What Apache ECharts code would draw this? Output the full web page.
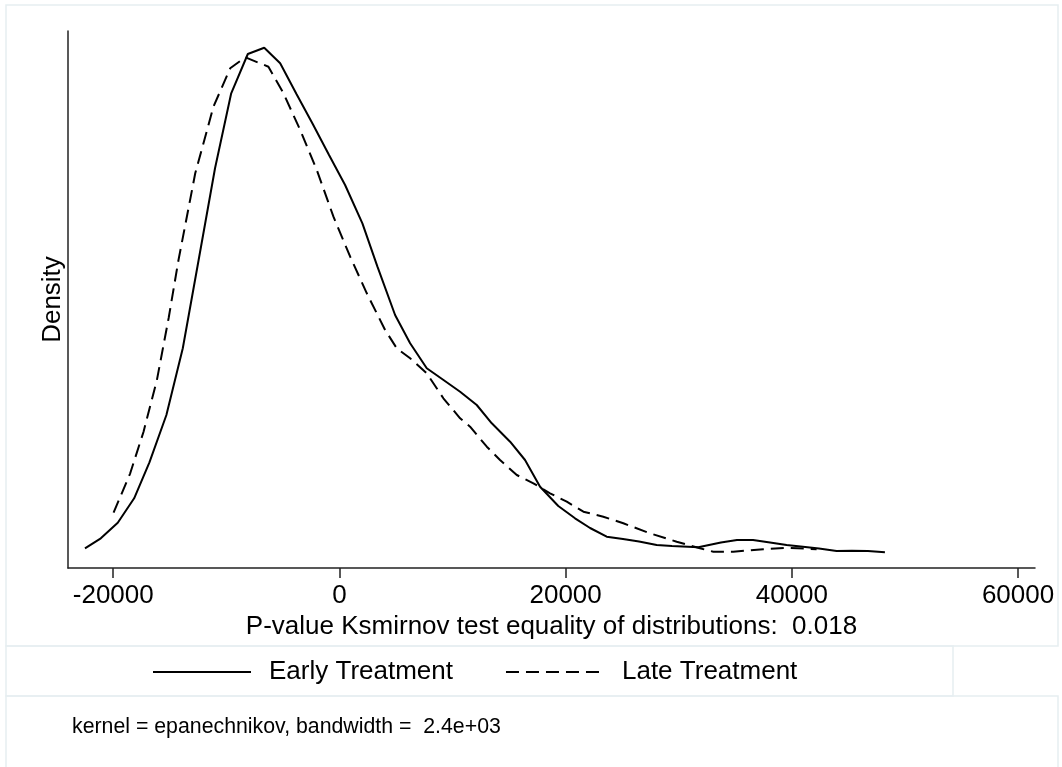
<!DOCTYPE html>
<html>
<head>
<meta charset="utf-8">
<title>Kernel density: early vs late treatment</title>
<script src="https://cdn.jsdelivr.net/npm/echarts@6/dist/echarts.min.js"></script>
<style>
	html, body { margin: 0; padding: 0; background: #fff; }
	#chart { width: 1062px; height: 767px; }
</style>
</head>
<body>
<div id="chart"></div>
<script>
// kernel density estimates (density in units of 1e-6)
var xEarly = [-22500, -21100, -19600, -18150, -16800, -15300, -13850, -12450, -11000, -9570,
	-8100, -6650, -5240, -3800, -2360, -920, 500, 2030, 3360, 4920,
	6250, 7720, 9200, 10670, 12140, 13470, 15090, 16410, 17740, 19350,
	20830, 22160, 23630, 25070, 26490, 28050, 29400, 30820, 31730, 33730,
	35150, 36570, 38070, 39540, 40980, 42400, 43960, 45310, 46720, 48230];
var yEarly = [1.97, 2.97, 4.53, 6.97, 10.57, 15.3, 21.97, 30.8, 39.97, 47.47,
	51.4, 52.03, 50.47, 47.4, 44.4, 41.3, 38.3, 34.47, 30.13, 25.3,
	22.47, 19.97, 18.8, 17.63, 16.3, 14.47, 12.63, 10.8, 8.13, 6.2,
	4.97, 4.0, 3.13, 2.9, 2.65, 2.3, 2.2, 2.12, 2.07, 2.55,
	2.8, 2.8, 2.55, 2.3, 2.13, 1.95, 1.7, 1.73, 1.7, 1.57];

var xLate = [-19970, -18500, -17320, -16140, -15100, -14230, -12750, -11140, -9660, -8330,
	-6280, -4950, -3470, -2000, -530, 950, 2420, 4040, 5070, 6250,
	7720, 9190, 10670, 11550, 13030, 14200, 15680, 17150, 18620, 20100,
	21570, 23330, 25100, 27460, 29820, 31880, 33060, 34820, 37470, 39540,
	42190];
var yLate = [5.53, 9.47, 13.63, 18.8, 25.0, 30.8, 39.47, 46.13, 49.97, 51.07,
	50.13, 47.47, 43.8, 39.8, 35.13, 31.13, 27.47, 23.8, 21.97, 20.97,
	19.47, 16.97, 14.97, 14.13, 12.13, 10.8, 9.3, 8.47, 7.47, 6.63,
	5.63, 5.13, 4.47, 3.47, 2.63, 1.97, 1.63, 1.63, 1.87, 2.03,
	1.87];

var xTicks = [-20000, 0, 20000, 40000, 60000];
var seriesNames = ['Early Treatment', 'Late Treatment'];
var xTitle = 'P-value Ksmirnov test equality of distributions:  0.018';
var noteText = 'kernel = epanechnikov, bandwidth =  2.4e+03';

var FONT = '"Liberation Sans", Arial, Helvetica, sans-serif';
var BOX = '#e6eef1';

function pairs(xs, ys){
	var out = [];
	for (var i = 0; i < xs.length; i++) {
		out.push([xs[i], ys[i]]);
	}
	return out;
}

var option = {
	animation: false,
	backgroundColor: '#fff',
	textStyle: { fontFamily: FONT },
	grid: { left: 68, right: 27, top: 31, bottom: 199 },
	xAxis: {
		type: 'value',
		min: -24000,
		max: 61500,
		name: xTitle,
		nameLocation: 'middle',
		nameGap: 44,
		nameTextStyle: { fontSize: 26, color: '#000', fontFamily: FONT },
		axisLine: { show: true, onZero: false, lineStyle: { color: '#222', width: 1.5 } },
		axisTick: { show: true, length: 10, customValues: xTicks, lineStyle: { color: '#222', width: 1.5 } },
		axisLabel: {
			customValues: xTicks, margin: 15, fontSize: 26, color: '#000', fontFamily: FONT,
			formatter: function(v){ return String(v); }
		},
		splitLine: { show: false }
	},
	yAxis: {
		type: 'value',
		min: 0,
		max: 53.7,
		name: 'Density',
		nameLocation: 'middle',
		nameGap: 2,
		nameTextStyle: { fontSize: 26, color: '#000', fontFamily: FONT },
		axisLine: { show: true, onZero: false, lineStyle: { color: '#222', width: 1.5 } },
		axisTick: { show: false },
		axisLabel: { show: false },
		splitLine: { show: false }
	},
	legend: {
		left: 152,
		top: 659,
		padding: 0,
		itemWidth: 98,
		itemHeight: 14,
		itemGap: 52,
		itemStyle: { opacity: 0 },
		textStyle: { fontSize: 26, color: '#000', fontFamily: FONT, padding: [0, 0, 0, 13] },
		data: seriesNames
	},
	graphic: [
		{ type: 'rect', shape: { x: 6, y: 5, width: 1052, height: 641 }, style: { fill: 'none', stroke: BOX, lineWidth: 1.5 }, silent: true, z: -1 },
		{ type: 'rect', shape: { x: 6, y: 646, width: 947, height: 50 }, style: { fill: 'none', stroke: BOX, lineWidth: 1.5 }, silent: true, z: -1 },
		{ type: 'rect', shape: { x: 6, y: 696, width: 1052, height: 80 }, style: { fill: 'none', stroke: BOX, lineWidth: 1.5 }, silent: true, z: -1 },
		{ type: 'text', left: 72, top: 717, style: { text: noteText, fontSize: 21.3, fill: '#000', fontFamily: FONT } }
	],
	series: [
		{
			name: seriesNames[0],
			type: 'line',
			data: pairs(xEarly, yEarly),
			symbol: 'none',
			lineStyle: { color: '#000', width: 2, type: 'solid' },
			itemStyle: { color: '#000' }
		},
		{
			name: seriesNames[1],
			type: 'line',
			data: pairs(xLate, yLate),
			symbol: 'none',
			lineStyle: { color: '#000', width: 2, type: [13, 7] },
			itemStyle: { color: '#000' }
		}
	]
};

var chart = echarts.init(document.getElementById('chart'));
chart.setOption(option);
</script>
</body>
</html>
